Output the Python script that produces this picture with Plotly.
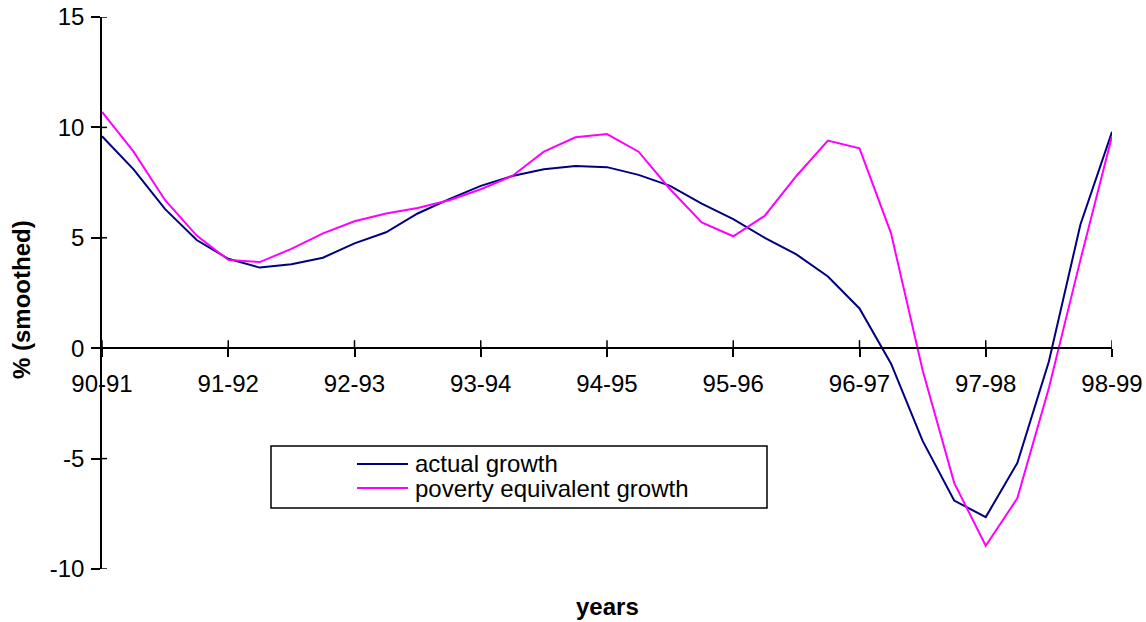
import plotly.graph_objects as go

categories = ["90-91", "91-92", "92-93", "93-94", "94-95", "95-96", "96-97", "97-98", "98-99"]
# quarterly positions (years since 90-91)
t = [i * 0.25 for i in range(33)]
actual_growth = [9.6, 8.1, 6.3, 4.9, 4.05, 3.65, 3.8, 4.1, 4.75, 5.25, 6.1, 6.75, 7.35,
                 7.8, 8.1, 8.25, 8.2, 7.85, 7.35, 6.55, 5.85, 5.0, 4.25, 3.25, 1.8,
                 -0.7, -4.2, -6.9, -7.65, -5.2, -0.6, 5.6, 9.8]
poverty_growth = [10.7, 8.9, 6.7, 5.1, 4.0, 3.9, 4.5, 5.2, 5.75, 6.1, 6.35, 6.7, 7.2,
                  7.8, 8.9, 9.55, 9.7, 8.9, 7.2, 5.7, 5.07, 6.0, 7.8, 9.4, 9.05,
                  5.2, -1.0, -6.1, -8.95, -6.8, -1.8, 4.0, 9.6]
y_ticks = [-10, -5, 0, 5, 10, 15]
y_tick_labels = ["-10", "-5", "0", "5", "10", "15"]
series_names = ["actual growth", "poverty equivalent growth"]
series_colors = ["#000080", "#FF00FF"]

FONT = "Liberation Sans, Arial, sans-serif"
FS = 24
W, H = 1146, 622
PL, PR, PT, PB = 102, 1112, 17, 569
L, R, T, B = PL, W - PR, PT, H - PB
pw, ph = PR - PL, PB - PT
y0_pos = (0 - (-10)) / 25.0


def px(xr):
    return (xr - PL) / pw


def py(yr):
    return (PB - yr) / ph


fig = go.Figure()
for vals, name, col in zip([actual_growth, poverty_growth], series_names, series_colors):
    fig.add_trace(go.Scatter(x=t, y=vals, mode="lines", name=name,
                             line=dict(color=col, width=2)))

shapes = []
# inward parts of crossing ticks
for v in y_ticks:
    shapes.append(dict(type="line", xref="paper", yref="y", x0=0, x1=5 / pw, y0=v, y1=v,
                       line=dict(color="black", width=1.5)))
for i in range(len(categories)):
    shapes.append(dict(type="line", xref="x", yref="paper", x0=i, x1=i,
                       y0=y0_pos, y1=y0_pos + 8 / ph, line=dict(color="black", width=1.5)))
# legend box
shapes.append(dict(type="rect", xref="paper", yref="paper",
                   x0=px(271), x1=px(767), y0=py(508), y1=py(446),
                   line=dict(color="black", width=1.5), fillcolor="rgba(0,0,0,0)"))

annotations = [
    dict(text="<b>% (smoothed)</b>", xref="paper", yref="paper",
         x=px(22), y=py(300), textangle=-90, showarrow=False,
         xanchor="center", yanchor="middle", font=dict(size=FS, family=FONT)),
    dict(text="<b>years</b>", xref="paper", yref="paper",
         x=px(607), y=py(606), showarrow=False,
         xanchor="center", yanchor="middle", font=dict(size=FS, family=FONT)),
]
# legend entries (sample line + label)
for k, (name, col) in enumerate(zip(series_names, series_colors)):
    yy = 464 + 24 * k
    shapes.append(dict(type="line", xref="paper", yref="paper",
                       x0=px(357), x1=px(408), y0=py(yy), y1=py(yy),
                       line=dict(color=col, width=2)))
    annotations.append(dict(text=name, xref="paper", yref="paper", x=px(413), y=py(yy),
                            showarrow=False, xanchor="left", yanchor="middle",
                            font=dict(size=FS, family=FONT)))

fig.update_layout(
    width=W, height=H,
    margin=dict(l=L, r=R, t=T, b=B, autoexpand=False),
    paper_bgcolor="white", plot_bgcolor="white",
    font=dict(family=FONT, size=FS, color="black"),
    showlegend=False,
    xaxis=dict(range=[0, 8], tickvals=list(range(len(categories))), ticktext=categories,
               showgrid=False, zeroline=False, showline=True, linecolor="black", linewidth=1.5,
               ticks="outside", ticklen=8, tickwidth=1.5, tickcolor="black",
               ticklabelstandoff=6, ticklabeloverflow="allow", automargin=False,
               anchor="free", position=y0_pos, tickfont=dict(size=FS, family=FONT)),
    yaxis=dict(range=[-10, 15], tickvals=y_ticks, ticktext=y_tick_labels,
               showgrid=False, zeroline=False,
               showline=True, linecolor="black", linewidth=1.5,
               ticks="outside", ticklen=9, tickwidth=1.5, tickcolor="black",
               ticklabelstandoff=2, ticklabeloverflow="allow", automargin=False,
               tickfont=dict(size=FS, family=FONT)),
    shapes=shapes,
    annotations=annotations,
)

fig.write_html("out.html", config={"displayModeBar": False},
               post_script="document.body.style.margin='0px';document.body.style.overflow='hidden';")
